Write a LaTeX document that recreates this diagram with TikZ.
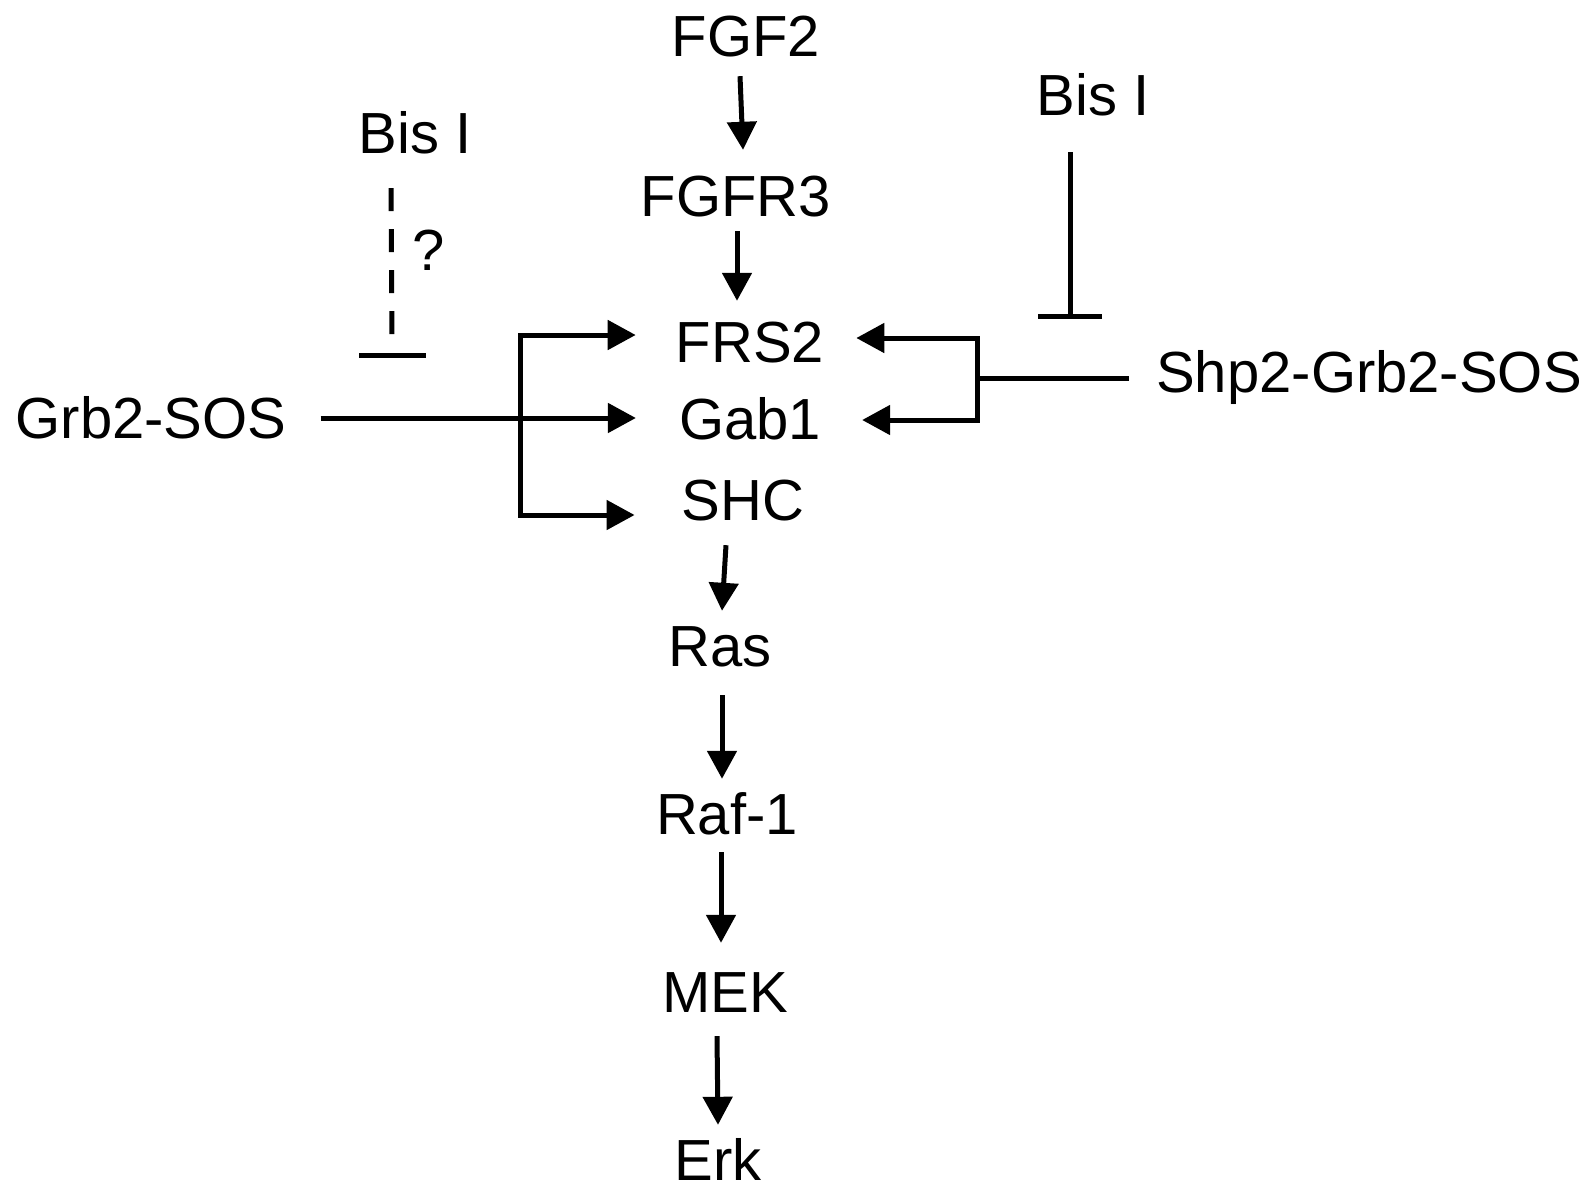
\documentclass[tikz,border=0pt]{standalone}
\usepackage{fontspec}
\setmainfont{Liberation Sans}
\usetikzlibrary{arrows.meta,calc}
\begin{document}
\begin{tikzpicture}[x=1pt,y=-1pt,
  lbl/.style={inner sep=0pt,anchor=base,text height=42pt,text depth=0pt,font=\fontsize{58}{60}\selectfont},
  line/.style={line width=5pt},
  arr/.style={line width=5pt,-{Triangle[length=28pt,width=29pt]}},
  inh/.style={line width=5pt,-{Bar[width=64pt]}},
  dashline/.style={line width=5pt,dash pattern=on 23pt off 18pt}]
\useasboundingbox (0,0) rectangle (1590,1186);
% nodes
\node[lbl] (fgf2) at (746,56) {FGF2};
\node[lbl] (fgfr3) at (736,216) {FGFR3};
\node[lbl] (frs2) at (750,362) {FRS2};
\node[lbl] (gab1) at (750,439) {Gab1};
\node[lbl] (shc) at (743,520) {SHC};
\node[lbl] (ras) at (720,666) {Ras};
\node[lbl] (raf) at (727,834) {Raf-1};
\node[lbl] (mek) at (725,1012) {MEK};
\node[lbl] (erk) at (718,1180) {Erk};
\node[lbl] (bisl) at (415,153) {Bis I};
\node[lbl] (bisr) at (1093,115) {Bis I};
\node[lbl] (grb) at (151,438) {Grb2-SOS};
\node[lbl] (shp) at (1369,392) {Shp2-Grb2-SOS};
\node[lbl] (q) at (429,270) {?};
% main cascade
\draw[arr] ($(fgf2.south)+(-6,20)$) -- ($(fgfr3.north)+(7,-24)$);
\draw[arr] ($(fgfr3.south)+(1,15)$) -- ($(frs2.north)+(-13,-19)$);
\draw[arr] ($(shc.south)+(-17,25)$) -- ($(ras.north)+(2,-13)$);
\draw[arr] ($(ras.south)+(2,29)$) -- ($(raf.north)+(-5,-13)$);
\draw[arr] ($(raf.south)+(-6,18)$) -- ($(mek.north)+(-4,-27)$);
\draw[arr] ($(mek.south)+(-8,24)$) -- ($(erk.north)+(0,-13)$);
% left bracket
\coordinate (jl) at (520,418);
\draw[line] ($(grb.base east)+(34,-20)$) -- (jl);
\draw[arr] (jl) |- ($(frs2.west)+(-40,-6)$);
\draw[arr] (jl) -- ($(gab1.west)+(-43,0)$);
\draw[arr] (jl) |- ($(shc.west)+(-47,16)$);
% right bracket
\coordinate (jr) at (977,378);
\draw[line] ($(shp.west)+(-27,7)$) -- (jr);
\draw[arr] (jr) |- ($(frs2.east)+(32,-3)$);
\draw[arr] (jr) |- ($(gab1.east)+(41,2)$);
% right inhibition
\coordinate (rinh) at (1070,319);
\draw[inh] ($(bisr.south)+(-23,37)$) -- (rinh);
% left (dashed) inhibition
\coordinate (lbar) at (392,355);
\draw[dashline] ($(bisl.south)+(-24,35)$) -- ($(lbar)+(0,-20)$);
\draw[line] ($(lbar)+(-33,0)$) -- ($(lbar)+(34,0)$);
\end{tikzpicture}
\end{document}
